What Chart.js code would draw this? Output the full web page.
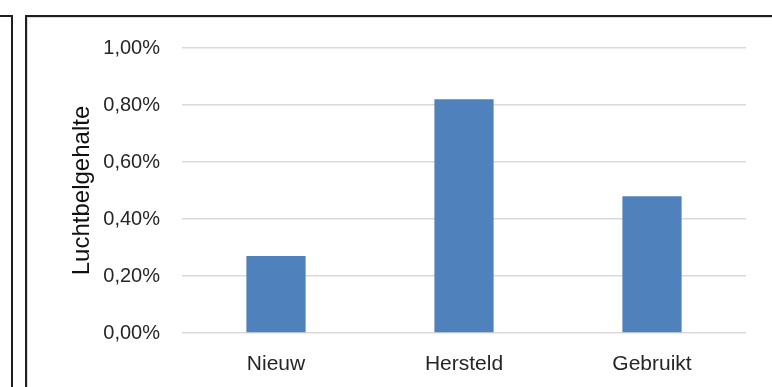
<!DOCTYPE html>
<html>
<head>
<meta charset="utf-8">
<script src="https://cdn.jsdelivr.net/npm/chart.js@4"></script>
<style>
  html, body { margin: 0; padding: 0; background: #fff; }
  body { width: 772px; height: 387px; position: relative; overflow: hidden; }
  #leftFrame { position: absolute; left: -10px; top: 15px; width: 19px; height: 400px; border: 2px solid #1e1e1e; }
  #mainFrame { position: absolute; left: 25px; top: 15px; width: 800px; height: 400px; border: 2px solid #1e1e1e;
               box-shadow: inset 1px 1px 0 #d8d8d8; }
  #wrap { position: absolute; left: 0; top: 0; width: 772px; height: 387px; }
</style>
</head>
<body>
<div id="leftFrame"></div>
<div id="mainFrame"></div>
<div id="wrap"><canvas id="barChart"></canvas></div>
<script>
// chart data
const categories = ["Nieuw", "Hersteld", "Gebruikt"];
const luchtValues = [0.27, 0.82, 0.48];
const yTicks = [0, 0.2, 0.4, 0.6, 0.8, 1.0];

const fontFamily = "'Liberation Sans', Arial, sans-serif";

const ctx = document.getElementById("barChart");
new Chart(ctx, {
  type: "bar",
  data: {
    labels: categories,
    datasets: [
      {
        label: "Luchtbelgehalte",
        data: luchtValues,
        backgroundColor: "#4f81bd",
        borderWidth: 0,
        categoryPercentage: 1,
        barPercentage: 0.315,
      },
    ],
  },
  options: {
    responsive: true,
    maintainAspectRatio: false,
    animation: false,
    devicePixelRatio: 1,
    layout: { padding: { left: 0, right: 26, top: 48, bottom: 0 } },
    plugins: {
      legend: { display: false },
      tooltip: { enabled: false },
    },
    scales: {
      x: {
        grid: { display: false },
        border: { display: false },
        ticks: {
          color: "#262626",
          padding: 11,
          font: { family: fontFamily, size: 21 },
        },
        afterFit: (scale) => { scale.height = 54; },
      },
      y: {
        min: 0,
        max: 1,
        afterBuildTicks: (scale) => {
          scale.ticks = yTicks.map((v) => ({ value: v }));
        },
        grid: { color: "#d9d9d9", lineWidth: 1.5, drawTicks: false },
        border: { display: false },
        ticks: {
          color: "#262626",
          padding: 22,
          font: { family: fontFamily, size: 20 },
          callback: (v) => v.toFixed(2).replace(".", ",") + "%",
        },
        title: {
          display: true,
          text: "Luchtbelgehalte",
          color: "#111",
          padding: { top: 68, bottom: 0 },
          font: { family: fontFamily, size: 24 },
        },
        afterFit: (scale) => { scale.width = 182; },
      },
    },
  },
});
</script>
</body>
</html>
